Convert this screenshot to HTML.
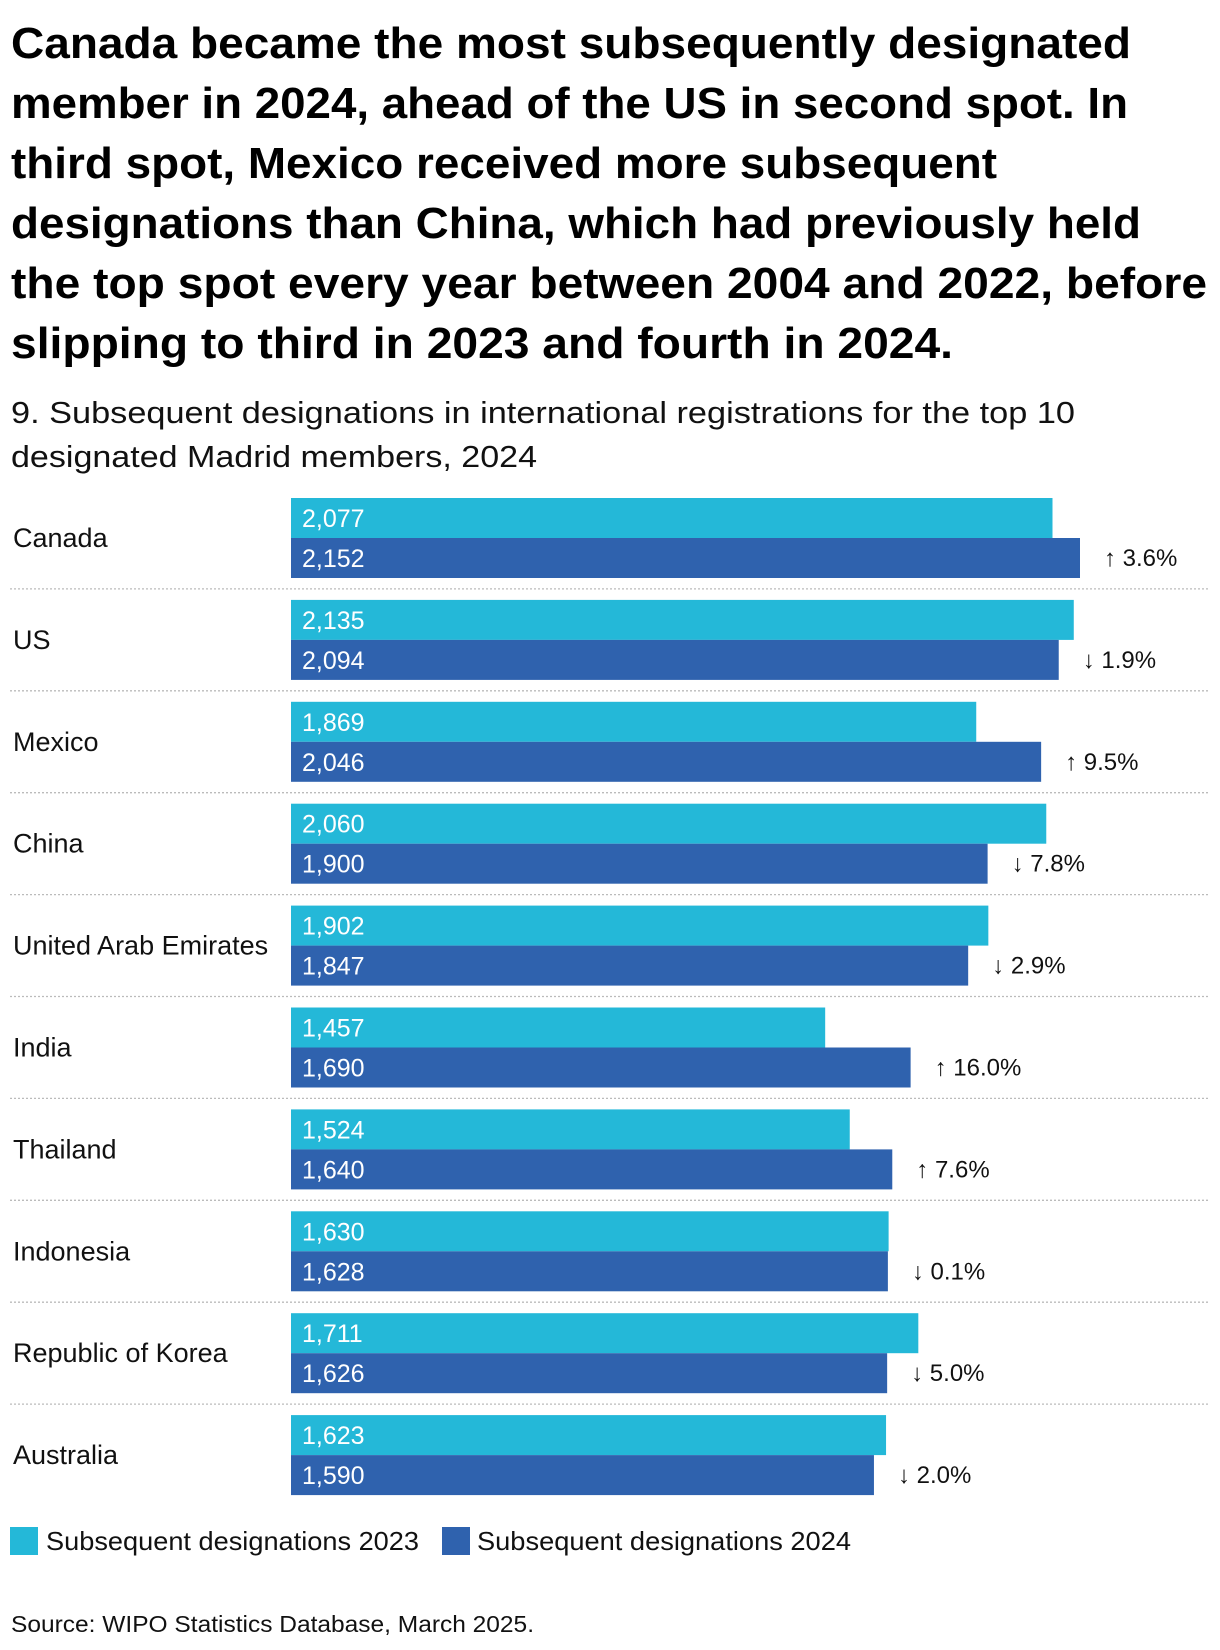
<!DOCTYPE html>
<html><head><meta charset="utf-8"><style>
html,body{margin:0;padding:0;background:#fff;}
svg{display:block;font-family:"Liberation Sans",sans-serif;}
</style></head><body>
<svg id="chart" width="1220" height="1650" viewBox="0 0 1220 1650" xmlns="http://www.w3.org/2000/svg">
<g font-weight="bold" font-size="44" fill="#000">
<text x="11" y="58" textLength="1120" lengthAdjust="spacingAndGlyphs">Canada became the most subsequently designated</text>
<text x="11" y="118" textLength="1117" lengthAdjust="spacingAndGlyphs">member in 2024, ahead of the US in second spot. In</text>
<text x="11" y="178" textLength="986" lengthAdjust="spacingAndGlyphs">third spot, Mexico received more subsequent</text>
<text x="11" y="238" textLength="1130" lengthAdjust="spacingAndGlyphs">designations than China, which had previously held</text>
<text x="11" y="298" textLength="1196" lengthAdjust="spacingAndGlyphs">the top spot every year between 2004 and 2022, before</text>
<text x="11" y="358" textLength="942" lengthAdjust="spacingAndGlyphs">slipping to third in 2023 and fourth in 2024.</text>
</g>
<g font-size="31" fill="#111">
<text x="11" y="423" textLength="1064" lengthAdjust="spacingAndGlyphs">9. Subsequent designations in international registrations for the top 10</text>
<text x="11" y="467" textLength="526" lengthAdjust="spacingAndGlyphs">designated Madrid members, 2024</text>
</g>
<g id="plot"></g>
<g font-size="26" fill="#111">
<rect x="10" y="1527" width="28" height="28" fill="#24b8d8"/>
<text x="46" y="1550" textLength="373" lengthAdjust="spacingAndGlyphs">Subsequent designations 2023</text>
<rect x="442" y="1527" width="28" height="28" fill="#2f62ae"/>
<text x="477" y="1550" textLength="374" lengthAdjust="spacingAndGlyphs">Subsequent designations 2024</text>
</g>
<text x="11" y="1632" font-size="23" fill="#111" textLength="523" lengthAdjust="spacingAndGlyphs">Source: WIPO Statistics Database, March 2025.</text>
</svg>
<script>
const categories = ["Canada","US","Mexico","China","United Arab Emirates","India","Thailand","Indonesia","Republic of Korea","Australia"];
const values2023 = [2077,2135,1869,2060,1902,1457,1524,1630,1711,1623];
const values2024 = [2152,2094,2046,1900,1847,1690,1640,1628,1626,1590];
const changeLabels = ["↑ 3.6%","↓ 1.9%","↑ 9.5%","↓ 7.8%","↓ 2.9%","↑ 16.0%","↑ 7.6%","↓ 0.1%","↓ 5.0%","↓ 2.0%"];

const NS = "http://www.w3.org/2000/svg";
const plot = document.getElementById("plot");
const x0 = 291, pxPerUnit = 789 / 2152;
const xScale = v => x0 + v * pxPerUnit;
const rowTop0 = 498, rowPitch = 101.9, barH = 40;
const rowTop = i => rowTop0 + i * rowPitch;
const fmt = v => v.toLocaleString("en-US");

function mk(tag, attrs, text) {
  const e = document.createElementNS(NS, tag);
  for (const k in attrs) e.setAttribute(k, attrs[k]);
  if (text !== undefined) e.textContent = text;
  plot.appendChild(e);
  return e;
}

categories.forEach((c, i) => {
  const t = rowTop(i);
  if (i > 0) {
    const s = mk("line", {x1: 10, x2: 1210, y1: t - 11, y2: t - 11, stroke: "#bbb", "stroke-width": 1.3, "stroke-dasharray": "2 2"});
    
    
  }
  const lab = mk("text", {x: 13, y: t + barH + 9, "font-size": 27, fill: "#111"}, c);
  
  

  const b1 = mk("rect", {x: x0, y: t, width: xScale(values2023[i]) - x0, height: barH, fill: "#24b8d8"});
  
  
  const b2 = mk("rect", {x: x0, y: t + barH, width: xScale(values2024[i]) - x0, height: barH, fill: "#2f62ae"});
  
  

  const v1 = mk("text", {x: x0 + 11, y: t + 29, "font-size": 25, fill: "#fff"}, fmt(values2023[i]));
  
  
  const v2 = mk("text", {x: x0 + 11, y: t + barH + 29, "font-size": 25, fill: "#fff"}, fmt(values2024[i]));
  
  

  const p = mk("text", {x: xScale(values2024[i]) + 24, y: t + barH + 28, "font-size": 24, fill: "#111"}, changeLabels[i]);
  
  
});
</script>
</body></html>
